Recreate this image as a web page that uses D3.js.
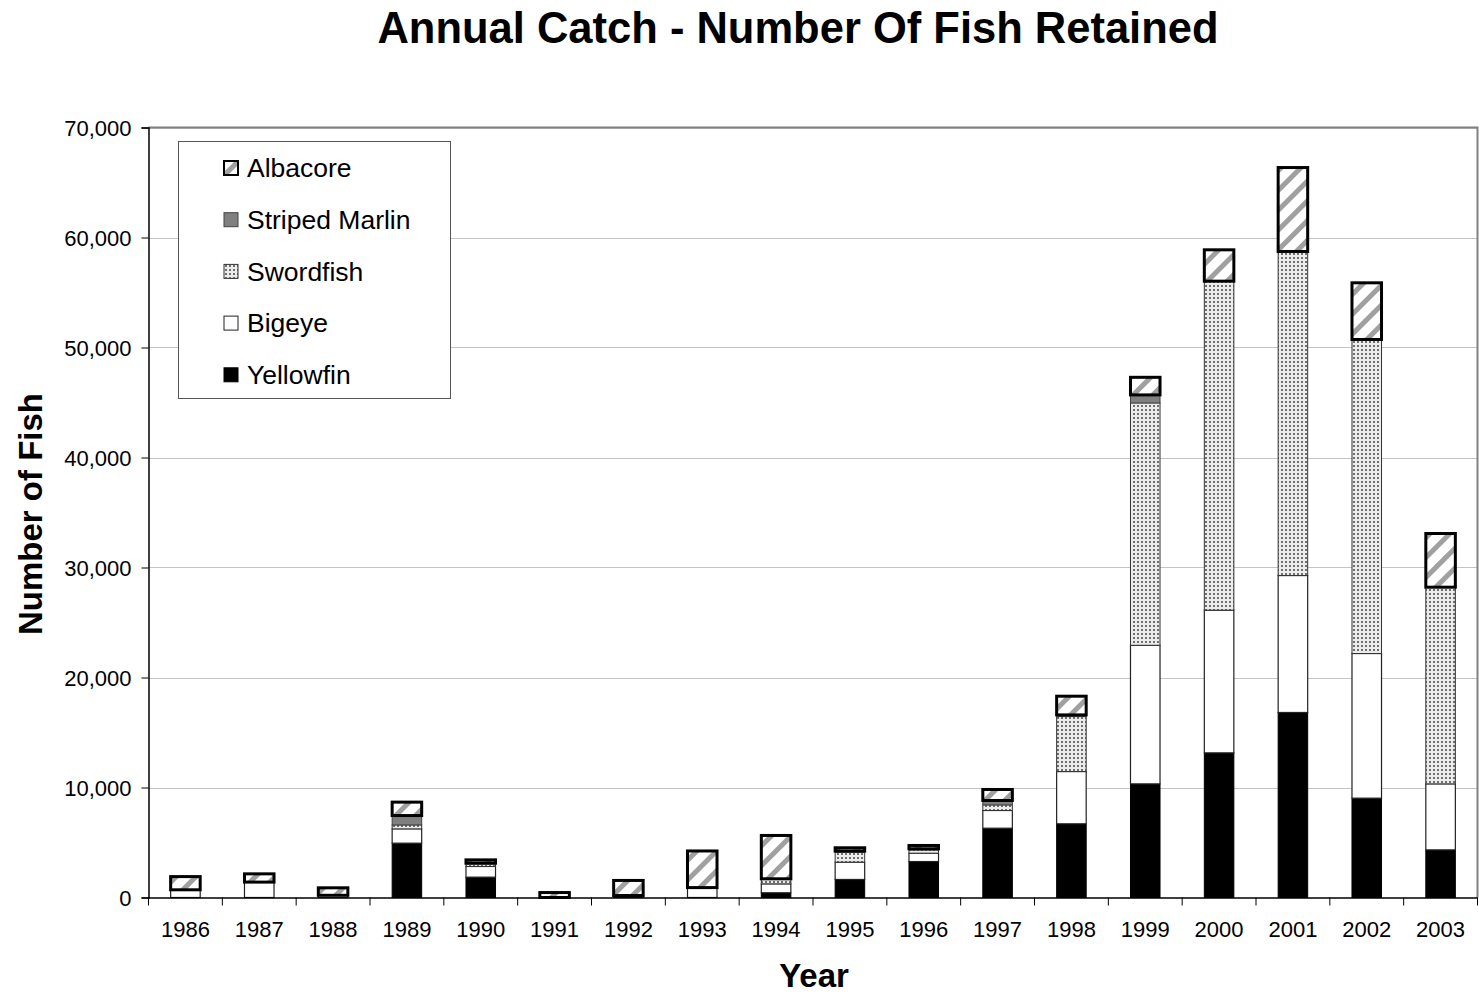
<!DOCTYPE html>
<html>
<head>
<meta charset="utf-8">
<script src="https://cdn.jsdelivr.net/npm/d3@7"></script>
<style>
  html, body { margin: 0; padding: 0; background: #fff; }
  svg { display: block; font-family: "Liberation Sans", Arial, sans-serif; }
</style>
</head>
<body>
<svg id="chart" width="1479" height="997"></svg>
<script>
const years = ["1986","1987","1988","1989","1990","1991","1992","1993","1994","1995","1996","1997","1998","1999","2000","2001","2002","2003"];
const yellowfin     = [0, 0, 0, 4940, 1850, 0, 50, 0, 430, 1640, 3270, 6300, 6700, 10330, 13150, 16820, 9030, 4330];
const bigeye        = [700, 1400, 200, 1300, 970, 0, 130, 850, 810, 1570, 760, 1610, 4750, 12600, 12970, 12450, 13150, 6000];
const swordfish     = [0, 0, 0, 360, 240, 0, 0, 50, 460, 910, 300, 510, 5000, 22030, 29910, 29460, 28550, 17880];
const stripedMarlin = [0, 0, 0, 850, 60, 0, 0, 0, 0, 100, 100, 400, 150, 730, 0, 0, 0, 0];
const albacore      = [1200, 750, 680, 1220, 300, 450, 1370, 3330, 3940, 300, 300, 1000, 1700, 1600, 2850, 7630, 5150, 4880];
const seriesNames = ["Yellowfin", "Bigeye", "Swordfish", "Striped Marlin", "Albacore"];
const yTicks = [0, 10000, 20000, 30000, 40000, 50000, 60000, 70000];

(function () {
const svg = d3.select("#chart");
const defs = svg.append("defs");

// Albacore: diagonal gray stripes
const stripe = defs.append("pattern").attr("id", "stripes")
  .attr("patternUnits", "userSpaceOnUse").attr("width", 14).attr("height", 14)
  .attr("patternTransform", "rotate(45)");
stripe.append("rect").attr("width", 14).attr("height", 14).attr("fill", "#fff");
stripe.append("rect").attr("x", 0).attr("width", 5).attr("height", 14).attr("fill", "#a0a0a0");

// Swordfish: dotted
const dots = defs.append("pattern").attr("id", "dots")
  .attr("patternUnits", "userSpaceOnUse").attr("width", 4).attr("height", 4);
dots.append("rect").attr("width", 4).attr("height", 4).attr("fill", "#ececec");
dots.append("rect").attr("x", 1).attr("y", 1).attr("width", 2).attr("height", 2).attr("fill", "#707070");

const styles = {
  "Yellowfin":      { fill: "#000", stroke: "#000", sw: 1 },
  "Bigeye":         { fill: "#fff", stroke: "#222", sw: 1.2 },
  "Swordfish":      { fill: "url(#dots)", stroke: "#333", sw: 1 },
  "Striped Marlin": { fill: "#808080", stroke: "#444", sw: 1 },
  "Albacore":       { fill: "url(#stripes)", stroke: "#000", sw: 3 }
};

const pL = 148.5, pR = 1477.5, pT = 127.5, pB = 897.5;

const x = d3.scaleBand().domain(years).range([pL, pR]).paddingInner(0.6).paddingOuter(0.3);
const xCat = d3.scaleBand().domain(years).range([pL, pR]);
const y = d3.scaleLinear().domain([0, 70000]).range([pB, pT]);

// gridlines
svg.append("g").selectAll("line").data(yTicks.slice(1)).join("line")
  .attr("x1", pL).attr("x2", pR)
  .attr("y1", d => Math.round(y(d)) + 0.5).attr("y2", d => Math.round(y(d)) + 0.5)
  .attr("stroke", "#888").attr("stroke-width", 1).attr("stroke-dasharray", "1,1");

// plot border (top and right gray)
svg.append("path")
  .attr("d", `M${pL},${pT}H${pR}V${pB}`)
  .attr("fill", "none").attr("stroke", "#808080").attr("stroke-width", 2);

// stack
const table = years.map((yr, i) => ({
  year: yr,
  "Yellowfin": yellowfin[i], "Bigeye": bigeye[i], "Swordfish": swordfish[i],
  "Striped Marlin": stripedMarlin[i], "Albacore": albacore[i]
}));
const stacked = d3.stack().keys(seriesNames)(table);

const barsG = svg.append("g");
stacked.forEach(layer => {
  const st = styles[layer.key];
  barsG.append("g").selectAll("rect").data(layer.filter(d => d[1] - d[0] > 0)).join("rect")
    .attr("x", d => x(d.data.year))
    .attr("width", x.bandwidth())
    .attr("y", d => y(d[1]))
    .attr("height", d => Math.max(0.5, y(d[0]) - y(d[1])))
    .attr("fill", st.fill)
    .attr("stroke", st.stroke)
    .attr("stroke-width", st.sw);
});

// axes
const yAxis = d3.axisLeft(y).tickValues(yTicks).tickSize(7).tickFormat(d3.format(","));
const yg = svg.append("g").attr("transform", `translate(${pL},0)`).call(yAxis);
yg.select(".domain").attr("stroke", "#000").attr("stroke-width", 1.5);
yg.selectAll(".tick line").attr("stroke", "#000");
yg.selectAll(".tick text").attr("font-size", 22).attr("fill", "#000")
  .attr("font-family", "Liberation Sans, Arial, sans-serif").attr("x", -17).attr("dy", "0.35em");

const xAxis = d3.axisBottom(xCat).tickSize(0);
const xg = svg.append("g").attr("transform", `translate(0,${pB})`).call(xAxis);
xg.select(".domain").attr("stroke", "#000").attr("stroke-width", 1.5);
xg.selectAll(".tick text").attr("font-size", 22).attr("fill", "#000")
  .attr("font-family", "Liberation Sans, Arial, sans-serif").attr("y", 24).attr("dy", "0.71em");
// category separator ticks
xg.append("g").selectAll("line").data(years.slice(1).concat(["end"])).join("line")
  .attr("x1", (d, i) => i < years.length - 1 ? xCat(d) : pR)
  .attr("x2", (d, i) => i < years.length - 1 ? xCat(d) : pR)
  .attr("y1", 0).attr("y2", 8).attr("stroke", "#000").attr("stroke-width", 1);
xg.append("line").attr("x1", pL).attr("x2", pL).attr("y1", 0).attr("y2", 8).attr("stroke", "#000");

// titles
svg.append("text").attr("x", 798).attr("y", 43).attr("text-anchor", "middle")
  .attr("font-size", 43.5).attr("font-weight", "bold").text("Annual Catch - Number Of Fish Retained");
svg.append("text").attr("transform", "translate(42,514) rotate(-90)").attr("text-anchor", "middle")
  .attr("font-size", 33).attr("font-weight", "bold").text("Number of Fish");
svg.append("text").attr("x", 814).attr("y", 987).attr("text-anchor", "middle")
  .attr("font-size", 33).attr("font-weight", "bold").text("Year");

// legend
const lg = svg.append("g");
lg.append("rect").attr("x", 178.5).attr("y", 141.5).attr("width", 272).attr("height", 257)
  .attr("fill", "#fff").attr("stroke", "#555").attr("stroke-width", 1);
const legendOrder = ["Albacore", "Striped Marlin", "Swordfish", "Bigeye", "Yellowfin"];
legendOrder.forEach((name, i) => {
  const cy = 168 + i * 51.7;
  const st = styles[name];
  lg.append("rect").attr("x", 224).attr("y", cy - 7).attr("width", 14).attr("height", 14)
    .attr("fill", name === "Albacore" ? "url(#stripes)" : st.fill)
    .attr("stroke", st.stroke).attr("stroke-width", name === "Albacore" ? 2 : 1);
  lg.append("text").attr("x", 247).attr("y", cy).attr("dy", "0.35em")
    .attr("font-size", 26.5).text(name);
});
})();
</script>
</body>
</html>
